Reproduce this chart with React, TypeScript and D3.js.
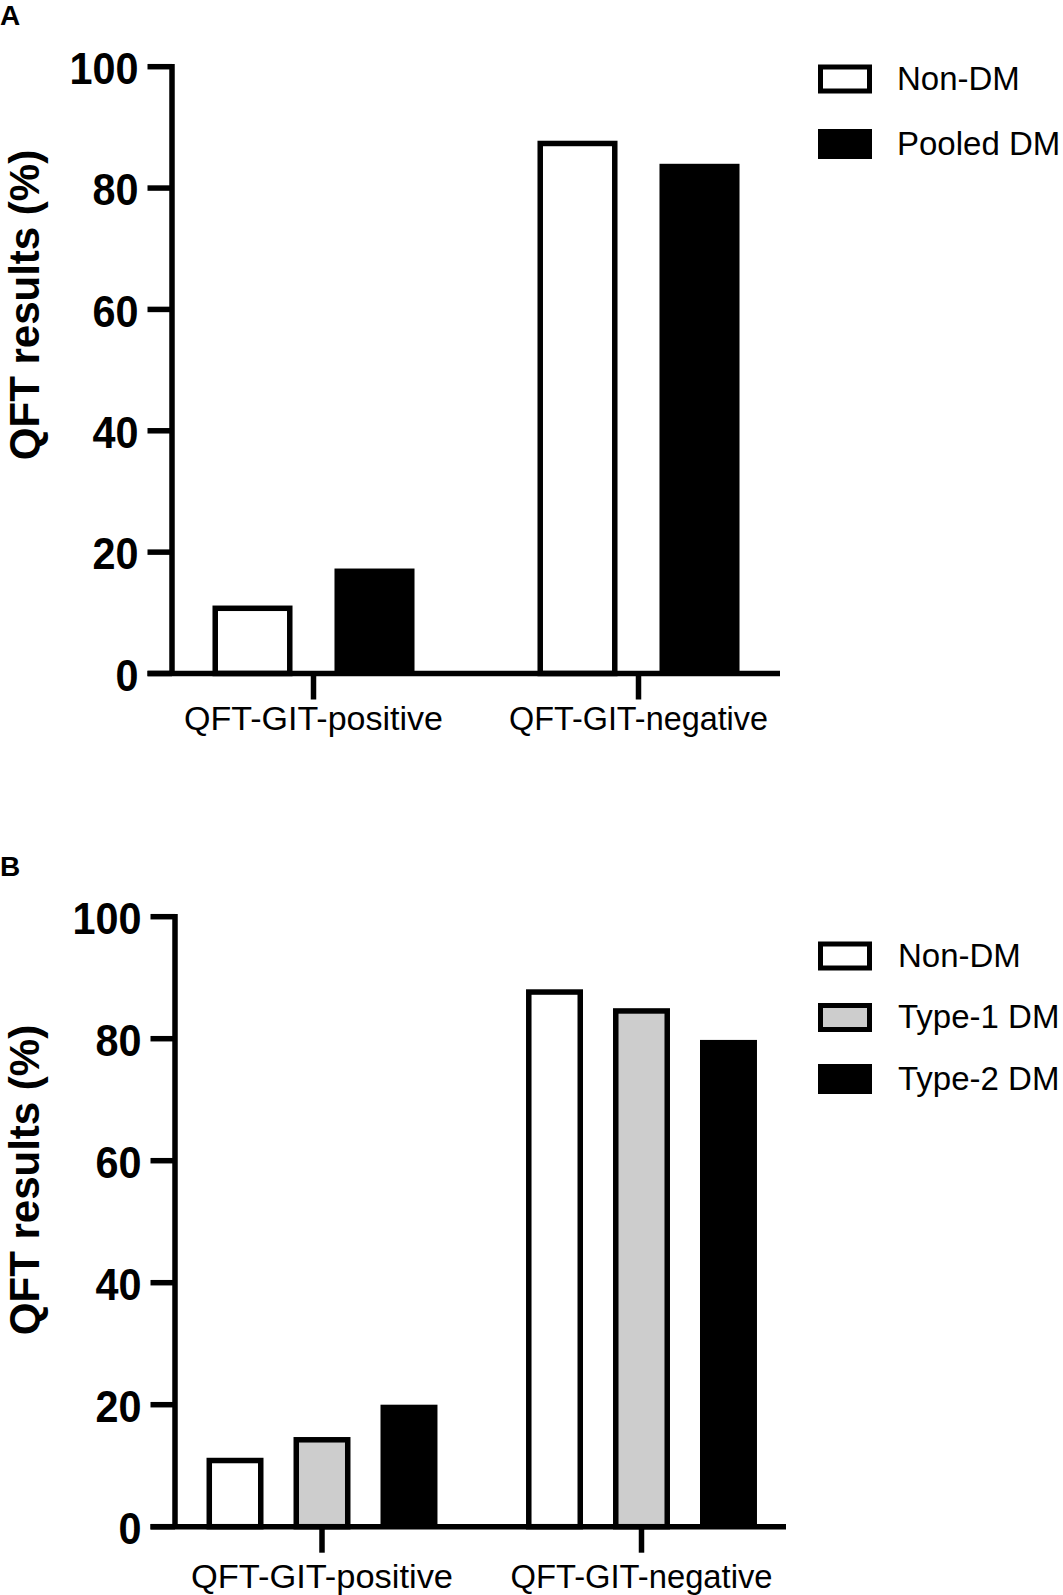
import React from "react";
import * as d3 from "d3";

const categories = ["QFT-GIT-positive", "QFT-GIT-negative"];
const yTicks = [0, 20, 40, 60, 80, 100];

const seriesA = ["Non-DM", "Pooled DM"];
const nonDmA = [11.2, 87.8];
const pooledDmA = [17.3, 84.0];

const seriesB = ["Non-DM", "Type-1 DM", "Type-2 DM"];
const nonDmB = [11.3, 88.1];
const type1DmB = [14.7, 85.0];
const type2DmB = [20.0, 79.8];

const FONT = "'Liberation Sans', Arial, Helvetica, sans-serif";
const SW = 5.5;

type PanelProps = {
  letter: string;
  letterY: number;
  series: string[];
  values: number[][];
  fills: string[];
  outlined: boolean[];
  axisX: number;
  axisRight: number;
  yTop: number;
  yBottom: number;
  outerRange: [number, number];
  innerPadding: number;
  innerOuterPadding: number;
  catLabelY: number;
  catLabelLen: number;
  titleY: number;
  legendY0: number;
  legendStep: number;
  legendTextX: number;
};

function Panel(p: PanelProps) {
  const y = d3.scaleLinear().domain([0, 100]).range([p.yBottom, p.yTop]);
  const x0 = d3.scaleBand<string>().domain(categories).range(p.outerRange).paddingInner(0).paddingOuter(0);
  const x1 = d3
    .scaleBand<string>()
    .domain(p.series)
    .range([0, x0.bandwidth()])
    .paddingInner(p.innerPadding)
    .paddingOuter(p.innerOuterPadding);
  const tickLen = 24.5;
  return (
    <g>
      <text x={0} y={p.letterY} fontFamily={FONT} fontWeight="bold" fontSize={28}>
        {p.letter}
      </text>
      {/* bars */}
      {categories.map((c, ci) =>
        p.series.map((s, si) => {
          const v = p.values[si][ci];
          const bx = (x0(c) as number) + (x1(s) as number);
          const bw = x1.bandwidth();
          const top = y(v);
          const h = y(0) - top;
          if (p.outlined[si]) {
            return (
              <rect
                key={c + s}
                x={bx + SW / 2}
                y={top + SW / 2}
                width={bw - SW}
                height={h - SW / 2}
                fill={p.fills[si]}
                stroke="#000"
                strokeWidth={SW}
              />
            );
          }
          return <rect key={c + s} x={bx} y={top} width={bw} height={h} fill={p.fills[si]} />;
        })
      )}
      {/* y axis */}
      <line x1={p.axisX} x2={p.axisX} y1={y(100) - SW / 2} y2={y(0)} stroke="#000" strokeWidth={SW} />
      {yTicks.map((t) => {
        const label = String(t);
        return (
          <g key={t}>
            <line x1={p.axisX - tickLen} x2={p.axisX} y1={y(t)} y2={y(t)} stroke="#000" strokeWidth={SW} />
            <text
              x={p.axisX - tickLen - 9}
              y={y(t)}
              dy="0.38em"
              textAnchor="end"
              fontFamily={FONT}
              fontWeight="bold"
              fontSize={45}
              textLength={label.length * 23}
              lengthAdjust="spacingAndGlyphs"
            >
              {label}
            </text>
          </g>
        );
      })}
      {/* x axis */}
      <line x1={p.axisX - tickLen} x2={p.axisRight} y1={y(0)} y2={y(0)} stroke="#000" strokeWidth={SW} />
      {categories.map((c) => {
        const cx = (x0(c) as number) + x0.bandwidth() / 2;
        return (
          <g key={c}>
            <line x1={cx} x2={cx} y1={y(0)} y2={y(0) + 26} stroke="#000" strokeWidth={SW} />
            <text
              x={cx}
              y={p.catLabelY}
              textAnchor="middle"
              fontFamily={FONT}
              fontSize={34}
              textLength={p.catLabelLen}
              lengthAdjust="spacingAndGlyphs"
            >
              {c}
            </text>
          </g>
        );
      })}
      {/* y title */}
      <text
        transform={`translate(${39},${p.titleY}) rotate(-90)`}
        textAnchor="middle"
        fontFamily={FONT}
        fontWeight="bold"
        fontSize={42}
      >
        QFT results (%)
      </text>
      {/* legend */}
      {p.series.map((s, si) => {
        const ly = p.legendY0 + si * p.legendStep;
        return (
          <g key={s}>
            {p.outlined[si] ? (
              <rect
                x={818 + 2.5}
                y={ly - 14.5 + 2.5}
                width={54 - 5}
                height={29 - 5}
                fill={p.fills[si]}
                stroke="#000"
                strokeWidth={5}
              />
            ) : (
              <rect x={818} y={ly - 15} width={54} height={30} fill={p.fills[si]} />
            )}
            <text x={p.legendTextX} y={ly - 1} dy="0.36em" fontFamily={FONT} fontSize={33}>
              {s}
            </text>
          </g>
        );
      })}
    </g>
  );
}

export default function App() {
  return (
    <svg width={1063} height={1595} style={{ position: "absolute", left: 0, top: 0, background: "#fff" }}>
      <rect x={0} y={0} width={1063} height={1595} fill="#fff" />
      <Panel
        letter="A"
        letterY={25}
        series={seriesA}
        values={[nonDmA, pooledDmA]}
        fills={["#fff", "#000"]}
        outlined={[true, false]}
        axisX={172}
        axisRight={780}
        yTop={66.7}
        yBottom={673.5}
        outerRange={[151, 801]}
        innerPadding={0.344}
        innerOuterPadding={0.504}
        catLabelY={730}
        catLabelLen={259}
        titleY={305}
        legendY0={79}
        legendStep={65}
        legendTextX={897}
      />
      <Panel
        letter="B"
        letterY={876}
        series={seriesB}
        values={[nonDmB, type1DmB, type2DmB]}
        fills={["#fff", "#cdcdcd", "#000"]}
        outlined={[true, true, false]}
        axisX={175}
        axisRight={786}
        yTop={916.7}
        yBottom={1526.7}
        outerRange={[162.25, 801.25]}
        innerPadding={0.345}
        innerOuterPadding={0.509}
        catLabelY={1588}
        catLabelLen={262}
        titleY={1180}
        legendY0={956}
        legendStep={61.5}
        legendTextX={898}
      />
    </svg>
  );
}
